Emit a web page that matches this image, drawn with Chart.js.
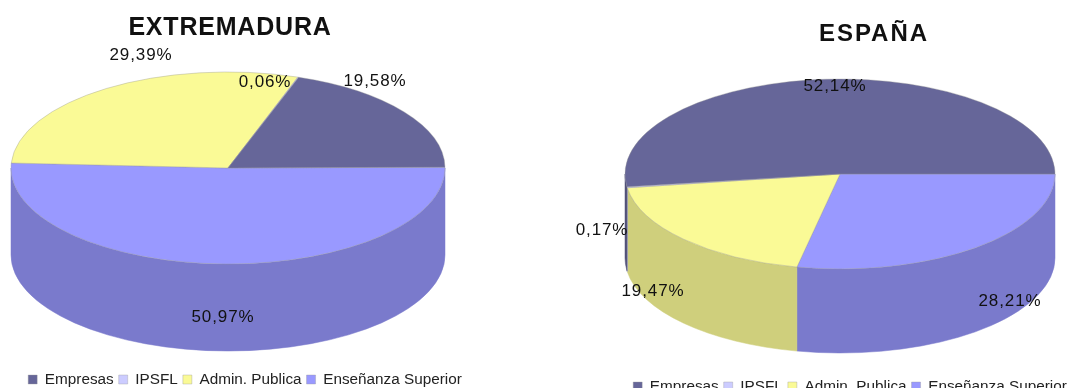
<!DOCTYPE html>
<html><head><meta charset="utf-8">
<style>html,body{margin:0;padding:0;background:#fff;width:1074px;height:388px;overflow:hidden}
.c{position:absolute;top:0;width:537px;height:388px;overflow:hidden}</style>
<script src="https://cdn.jsdelivr.net/npm/chart.js@4"></script>
</head><body>
<div class="c" style="left:0"><canvas id="a" width="537" height="388"></canvas></div>
<div class="c" style="left:537px"><canvas id="b" width="537" height="388"></canvas></div>
<script>
// Slices run clockwise in this order; the legend is shown reversed.
const categories = ['Enseñanza Superior', 'Admin. Publica', 'IPSFL', 'Empresas'];
const extremaduraValues = [50.97, 29.39, 0.06, 19.58];
const espanaValues = [28.21, 19.47, 0.17, 52.14];
const topColors = ['#9999FF', '#FAFA96', '#CCCCFF', '#666699'];
const sideColors = ['#7A7ACC', '#CFCF7C', '#A3A3CC', '#52527A'];

function pct(v){ return v.toFixed(2).replace('.', ',') + '%'; }

const pie3d = {
  id: 'pie3d',
  afterLayout(chart, args, o) {
    const place = (box, cx, cy) => {
      const dx = cx - (box.left + box.right) / 2, dy = cy - (box.top + box.bottom) / 2;
      box.left += dx; box.right += dx; box.top += dy; box.bottom += dy;
    };
    place(chart.titleBlock, o.titleAt[0], o.titleAt[1]);
    place(chart.legend, o.legendAt[0], o.legendAt[1]);
    const tb = chart.titleBlock;
    if (!tb._spaced) {
      const draw = tb.draw;
      tb.draw = function () {
        const c = this.ctx;
        c.save(); c.letterSpacing = o.titleSpacing;
        draw.call(this);
        c.restore();
      };
      tb._spaced = true;
    }
  },
  beforeDatasetDraw(chart, args, o) {
    const ctx = chart.ctx, arcs = args.meta.data, R = arcs[0].outerRadius;
    const ex = arcs[0].x, ey = arcs[0].y;
    arcs.forEach((arc, i) => {
      const s0 = arc.startAngle, e0 = arc.endAngle;
      for (let k = -1; k <= 1; k++) {
        const a = Math.max(s0, k * 2 * Math.PI), b = Math.min(e0, k * 2 * Math.PI + Math.PI);
        if (b <= a) continue;
        ctx.beginPath();
        ctx.ellipse(o.center[0], o.center[1], o.rx, o.ry, 0, a, b);
        ctx.ellipse(o.center[0], o.center[1] + o.depth, o.rx, o.ry, 0, b, a, true);
        ctx.closePath();
        ctx.fillStyle = sideColors[i];
        ctx.strokeStyle = sideColors[i];
        ctx.lineWidth = 0.5;
        ctx.fill(); ctx.stroke();
      }
    });
    ctx.save();
    ctx.translate(o.center[0], o.center[1]);
    ctx.scale(o.rx / R, o.ry / R);
    ctx.translate(-ex, -ey);
  },
  afterDatasetDraw(chart) { chart.ctx.restore(); },
  afterDatasetsDraw(chart, args, o) {
    const ctx = chart.ctx, vals = chart.data.datasets[0].data;
    ctx.save();
    ctx.font = '17px "Liberation Sans", Arial, sans-serif';
    ctx.letterSpacing = '0.9px';
    ctx.fillStyle = '#111';
    ctx.textAlign = 'center'; ctx.textBaseline = 'middle';
    vals.forEach((v, i) => ctx.fillText(pct(v), o.labelsAt[i][0], o.labelsAt[i][1]));
    ctx.restore();
  }
};

function build(id, title, values, rotation, layout, titleSize) {
  new Chart(document.getElementById(id), {
    type: 'pie',
    plugins: [pie3d],
    data: { labels: categories, datasets: [{ data: values, backgroundColor: topColors, borderWidth: 0.6, borderColor: 'rgba(150,150,150,0.6)', clip: false }] },
    options: {
      responsive: false, animation: false, events: [], rotation,
      layout: { padding: 10 },
      plugins: {
        title: { display: true, text: title, color: '#111', font: { family: '"Liberation Sans", Arial, sans-serif', size: titleSize, weight: 'bold' }, padding: 4 },
        legend: { display: true, position: 'bottom', reverse: true,
          labels: { boxWidth: 9, boxHeight: 9, padding: 5, color: '#222', font: { family: '"Liberation Sans", Arial, sans-serif', size: 15.3 } } },
        tooltip: { enabled: false },
        pie3d: layout
      }
    }
  });
}

build('a', 'EXTREMADURA', extremaduraValues, 89.5, {
  center: [228, 168], rx: 217, ry: 96, depth: 87,
  titleAt: [230, 28], titleSpacing: '0.8px', legendAt: [245, 382],
  labelsAt: [[223, 317], [141, 55], [265, 82], [375, 81]]
}, 25);
build('b', 'ESPAÑA', espanaValues, 90, {
  center: [303, 174], rx: 215, ry: 95, depth: 84,
  titleAt: [337, 34], titleSpacing: '2px', legendAt: [313, 389],
  labelsAt: [[473, 301], [116, 291], [65, 230], [298, 86]]
}, 24);
</script>
</body></html>
